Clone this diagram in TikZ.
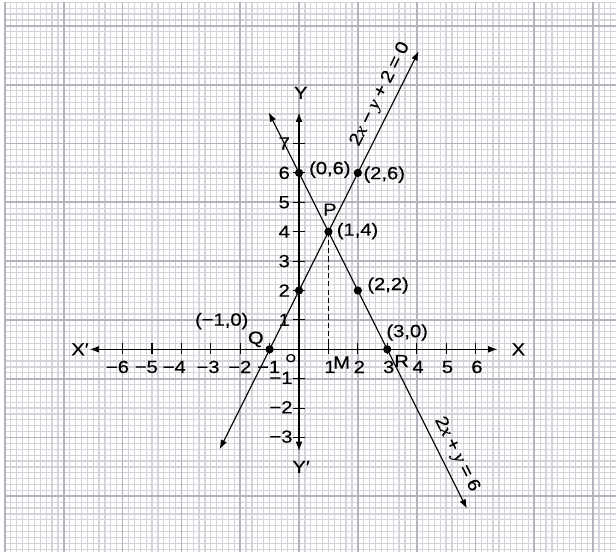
\documentclass[tikz,border=0pt]{standalone}
\usepackage{fontspec}
\setmainfont{Liberation Sans}[FakeStretch=1.15,FakeBold=0.35]
\newfontfamily\serifitfont{Liberation Serif}[FakeStretch=1.1,FakeBold=0.35]
\usetikzlibrary{arrows.meta}
\definecolor{fineg}{RGB}{212,212,218}
\definecolor{thickg}{RGB}{180,180,190}
\newcommand\myvx{{\serifitfont\itshape x}}
\newcommand\myvy{{\serifitfont\itshape y}}
\newcommand\mygap{\hspace{0.26em}}
\begin{document}
\begin{tikzpicture}[
  x=1cm,y=1cm,
  font=\fontsize{17}{20}\selectfont,
  tip/.tip={Latex[length=9pt,width=6.5pt]},
  axisline/.style={line width=1.1pt,tip-tip},
  graphline/.style={line width=1.1pt,tip-tip},
  tickmark/.style={line width=1pt},
  dotpt/.style={circle,fill=black,inner sep=0pt,minimum size=8pt},
  lbl/.style={inner sep=1pt},
  finegrid/.style={draw=fineg,line width=1.2pt},
  thickgrid/.style={draw=thickg,line width=1.7pt}
]
\useasboundingbox (-10.17,-6.89) rectangle (10.78,11.88);
\fill[white] (-10.17,-6.89) rectangle (10.78,11.88);
\begin{scope}
\clip (-10.05,-6.95) rectangle (10.85,11.85);
\draw[finegrid] (-10,-7) grid[step=0.2] (10.8,11.8);
\foreach \gx in {-10,-8,...,10} \draw[thickgrid] (\gx,-7) -- (\gx,11.8);
\foreach \gy in {-5,-3,...,11} \draw[thickgrid] (-10,\gy) -- (10.8,\gy);
\end{scope}

% axes
\coordinate (xl) at (-7.12,0);
\coordinate (xr) at (6.75,0);
\coordinate (yb) at (0,-3.46);
\coordinate (yt) at (0,8.05);
\draw[axisline] (xl) -- (xr);
\draw[axisline] (yb) -- (yt);
\node (Xp) at (-7.45,0) {X′};
\node (Xl) at (7.46,0) {X};
\node (Yl) at (0.06,8.72) {Y};
\node (Yp) at (0.07,-4.0) {Y′};

% ticks
\foreach \t in {-6,...,-1,1,2,...,6} \draw[tickmark] (\t,-0.15) -- (\t,0.2);
\foreach \t in {-3,...,-1,1,2,...,7} \draw[tickmark] (-0.2,\t) -- (0.22,\t);

% x tick labels
\foreach \t/\r in {-6/-5.74,-5/-4.76,-4/-3.81,-3/-2.66,-2/-1.58,-1/-0.6}
  \node[lbl,anchor=east] (xt\t) at (\r,-0.6) {−\the\numexpr-\t\relax};
\foreach \t in {1,...,6} \node[lbl] (xt\t) at (\t+0.05,-0.6) {\t};
% y tick labels
\foreach \t in {1,...,7} \node[lbl,anchor=east] (yt\t) at (-0.27,\t) {\t};
\foreach \t in {-3,-2,-1} \node[lbl,anchor=east] (ytm\t) at (-0.18,\t+0.03) {−\the\numexpr-\t\relax};
\node[font=\fontsize{11}{12}\selectfont,inner sep=0pt] (O) at (-0.28,-0.3) {O};

% graph lines
\coordinate (a1) at (-2.7,-3.4);
\coordinate (b1) at (4.07,10.14);
\coordinate (a2) at (-1.03,8.06);
\coordinate (b2) at (5.71,-5.42);
\draw[graphline] (a1) -- (b1)
  node[pos=0.875,sloped,above=3pt] (eq1) {2\myvx\mygap−\mygap\myvy\mygap+\mygap2\mygap=\mygap0};
\draw[graphline] (a2) -- (b2)
  node[pos=0.88,sloped,above=3pt] (eq2) {2\myvx\mygap+\mygap\myvy\mygap=\mygap6};

% dashed
\coordinate (Pc) at (1,4);
\coordinate (Mc) at (1,0);
\draw[line width=0.9pt,dash pattern=on 5pt off 3pt] (Pc) -- (Mc);

% points
\node[dotpt] (p06) at (0,6) {};
\node[dotpt] (p26) at (2,6) {};
\node[dotpt] (p14) at (1,4) {};
\node[dotpt] (p02) at (0,2) {};
\node[dotpt] (p22) at (2,2) {};
\node[dotpt] (pm10) at (-1,0) {};
\node[dotpt] (p30) at (3,0) {};

% point labels
\node[lbl,anchor=west] (l06) at (0.3,6.11) {(0,6)};
\node[lbl,anchor=west] (l26) at (2.15,5.94) {(2,6)};
\node[lbl] (lP) at (1.05,4.75) {P};
\node[lbl,anchor=west] (l14) at (1.24,4.02) {(1,4)};
\node[lbl,anchor=west] (l22) at (2.28,2.17) {(2,2)};
\node[lbl,anchor=west] (l30) at (2.93,0.57) {(3,0)};
\node[lbl] (lm10) at (-2.63,0.96) {(−1,0)};
\node[lbl] (lQ) at (-1.47,0.34) {Q};
\node[lbl] (lM) at (1.45,-0.45) {M};
\node[lbl] (lR) at (3.49,-0.4) {R};
\end{tikzpicture}
\end{document}
